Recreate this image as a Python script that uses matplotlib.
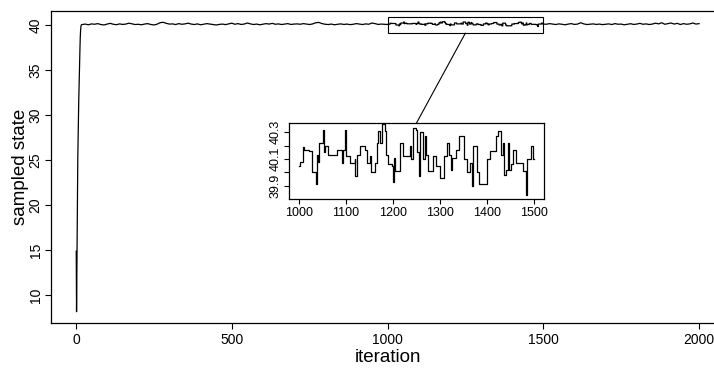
import numpy as np
import matplotlib
matplotlib.use("Agg")
import matplotlib.pyplot as plt
from matplotlib.patches import Rectangle, ConnectionPatch

plt.rcParams['font.family'] = ['Liberation Sans', 'DejaVu Sans']

# ---- data ----
burn_iter = list(range(1, 18))
burn_vals = [14.9, 8.2, 12.5, 17.0, 21.5, 25.3, 27.5, 29.5, 31.5, 33.1,
             34.8, 36.2, 37.5, 38.7, 39.4, 39.8, 40.0]

pre_iter = list(range(20, 1000, 10))
pre_vals = [40.05, 40.10, 40.02, 40.12, 40.08, 40.15, 40.05, 40.00, 40.10, 40.18,
            40.08, 40.03, 40.12, 40.06, 40.10, 40.20, 40.12, 40.05, 40.08, 40.02,
            40.10, 40.15, 40.06, 40.00, 40.08, 40.25, 40.30, 40.18, 40.10, 40.12,
            40.05, 40.15, 40.08, 40.12, 40.20, 40.10, 40.05, 40.12, 40.02, 40.08,
            40.15, 40.10, 40.05, 40.00, 40.06, 40.10, 40.04, 40.12, 40.20, 40.08,
            40.15, 40.06, 40.10, 40.22, 40.12, 40.05, 40.10, 40.02, 40.08, 40.15,
            40.10, 40.18, 40.08, 40.12, 40.05, 40.10, 40.15, 40.06, 40.10, 40.12,
            40.08, 40.15, 40.10, 40.05, 40.12, 40.25, 40.28, 40.15, 40.08, 40.05,
            40.10, 40.02, 40.08, 40.12, 40.06, 40.10, 40.04, 40.08, 40.15, 40.10,
            40.05, 40.12, 40.08, 40.22, 40.15, 40.06, 40.10, 40.08]

# step change points of the chain inside the zoomed window (1000-1500)
inset_iter = [1000, 1002, 1008, 1011, 1022, 1027, 1036, 1039, 1041, 1043,
              1052, 1054, 1056, 1062, 1080, 1091, 1092, 1094, 1098, 1101,
              1108, 1119, 1120, 1123, 1130, 1140, 1144, 1151, 1154, 1161,
              1165, 1169, 1172, 1176, 1183, 1186, 1190, 1197, 1200, 1202,
              1204, 1215, 1222, 1236, 1239, 1243, 1248, 1251, 1256, 1258,
              1263, 1268, 1271, 1275, 1285, 1291, 1300, 1308, 1315, 1319,
              1323, 1326, 1334, 1341, 1351, 1358, 1363, 1367, 1370, 1379,
              1382, 1399, 1407, 1420, 1424, 1430, 1433, 1436, 1441, 1445,
              1447, 1450, 1455, 1461, 1477, 1482, 1484, 1494, 1498, 1500]
inset_vals = [40.05, 40.08, 40.19, 40.17, 40.16, 40.00, 39.91, 40.13, 40.08, 40.22,
              40.32, 40.15, 40.20, 40.13, 40.17, 40.14, 40.07, 40.17, 40.32, 40.12,
              40.07, 40.10, 39.97, 40.13, 40.20, 40.17, 40.07, 40.12, 40.00, 40.07,
              40.22, 40.31, 40.22, 40.36, 40.31, 40.13, 40.06, 40.05, 39.93, 40.11,
              40.01, 40.22, 40.12, 40.20, 40.10, 40.33, 40.32, 40.15, 39.97, 40.30,
              40.10, 40.27, 40.13, 40.01, 40.12, 40.05, 39.96, 40.12, 40.22, 40.13,
              40.02, 40.11, 40.17, 40.27, 40.10, 40.00, 40.07, 39.90, 40.20, 40.00,
              39.91, 40.10, 40.16, 40.27, 40.31, 40.13, 40.22, 39.98, 40.02, 40.22,
              40.02, 40.06, 40.17, 40.07, 40.01, 39.83, 40.10, 40.20, 40.10, 40.10]

post_iter = list(range(1510, 2001, 10))
post_vals = [40.08, 40.15, 40.10, 40.05, 40.12, 40.08, 40.02, 40.10, 40.15, 40.06,
             40.10, 40.25, 40.12, 40.05, 40.08, 40.12, 40.06, 40.10, 40.04, 40.08,
             40.12, 40.05, 40.15, 40.08, 40.10, 40.02, 40.08, 40.14, 40.06, 40.10,
             40.18, 40.08, 40.12, 40.05, 40.10, 40.20, 40.12, 40.25, 40.08, 40.15,
             40.22, 40.10, 40.18, 40.05, 40.15, 40.08, 40.12, 40.22, 40.10, 40.15]

main_xticks = [0, 500, 1000, 1500, 2000]
main_yticks = [10, 15, 20, 25, 30, 35, 40]
inset_xticks = [1000, 1100, 1200, 1300, 1400, 1500]
inset_yticks = [39.9, 40.0, 40.1, 40.2, 40.3]
inset_ylabels = ['39.9', '', '40.1', '', '40.3']

zoom_x = (1000, 1500)
zoom_y = (39.1, 40.9)

# expand step change points into a step path
sx, sy = [], []
for i in range(len(inset_iter)):
    sx.append(inset_iter[i]); sy.append(inset_vals[i])
    if i + 1 < len(inset_iter):
        sx.append(inset_iter[i + 1]); sy.append(inset_vals[i])

all_x = burn_iter + pre_iter + sx + post_iter
all_y = burn_vals + pre_vals + sy + post_vals

W, H = 714, 369
fig = plt.figure(figsize=(W / 100, H / 100), dpi=100)
fig.patch.set_facecolor('white')

def frac(l, t, r, b):
    return [l / W, 1 - b / H, (r - l) / W, (b - t) / H]

ax = fig.add_axes(frac(51, 11, 724, 323))
ax.plot(all_x, all_y, color='black', lw=0.9)
ax.set_xlim(-80, 2080)
ax.set_ylim(6.95, 41.55)
ax.set_xticks(main_xticks)
ax.set_yticks(main_yticks)
ax.tick_params(axis='both', length=4, width=0.8, labelsize=10, direction='out')
ax.tick_params(axis='x', pad=3)
ax.tick_params(axis='y', pad=2)
for lab in ax.get_yticklabels():
    lab.set_rotation(90)
    lab.set_va('center')
for s in ax.spines.values():
    s.set_linewidth(0.9)
ax.spines['right'].set_visible(False)
ax.set_xlabel('iteration', fontsize=13.5, va='center')
ax.xaxis.set_label_coords(0.5, -0.109)
ax.set_ylabel('sampled state', fontsize=13.5, va='center')
ax.yaxis.set_label_coords(-0.046, 0.5)

ax.add_patch(Rectangle((zoom_x[0], zoom_y[0]), zoom_x[1] - zoom_x[0],
                       zoom_y[1] - zoom_y[0], fill=False, ec='black', lw=0.8))

axin = fig.add_axes(frac(289, 123, 544, 199))
axin.plot(sx, sy, color='black', lw=0.9)
axin.set_xlim(979, 1521)
axin.set_ylim(39.80, 40.37)
axin.set_xticks(inset_xticks)
axin.set_yticks(inset_yticks)
axin.set_yticklabels(inset_ylabels)
axin.tick_params(axis='both', length=3.5, width=0.8, labelsize=9, direction='out')
axin.tick_params(axis='x', pad=2)
axin.tick_params(axis='y', pad=2)
for lab in axin.get_yticklabels():
    lab.set_rotation(90)
    lab.set_va('center')
for s in axin.spines.values():
    s.set_linewidth(0.9)

con = ConnectionPatch(xyA=(1250, zoom_y[0]), coordsA=ax.transData,
                      xyB=(1250, 40.37), coordsB=axin.transData,
                      color='black', lw=0.8)
fig.add_artist(con)

fig.savefig('out.png', dpi=100, facecolor='white')
